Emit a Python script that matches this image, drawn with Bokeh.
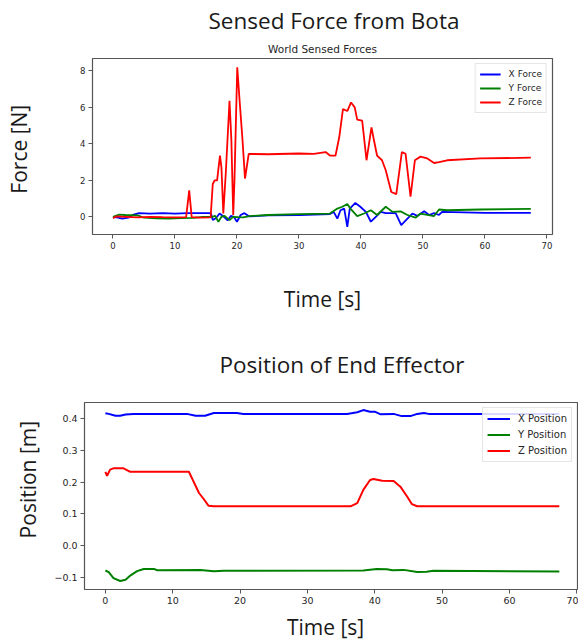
from bokeh.plotting import figure
from bokeh.models import Title, FixedTicker, CustomJSTickFormatter
from bokeh.embed import file_html
from bokeh.resources import INLINE

# ---------------- data: top chart (World Sensed Forces) ----------------
fx_time = [0, 0.8, 1.5, 2.5, 3.2, 4.2, 6, 8, 10, 12, 14, 15.8, 16.1, 16.6, 17.2, 17.9, 18.5,
           19.0, 19.5, 20.0, 20.6, 21.2, 22.0, 25, 30, 35, 35.6, 36.2, 36.7, 37.3, 37.8, 38.2,
           39.1, 39.9, 40.8, 41.6, 42.4, 43.2, 44.0, 45.6, 46.5, 47.5, 48.3, 49.1, 50.2, 51.0,
           51.8, 52.6, 53.1, 60, 67.4]
fx_value = [0.0, -0.05, -0.1, -0.05, 0.1, 0.2, 0.18, 0.2, 0.18, 0.2, 0.2, 0.2, -0.18, -0.08,
            0.18, 0.0, -0.2, 0.05, 0.0, -0.27, 0.1, 0.2, 0.02, 0.08, 0.1, 0.15, 0.27, -0.1,
            0.36, 0.45, -0.55, 0.45, 0.76, 0.55, 0.27, -0.27, 0.0, 0.27, 0.2, 0.2, -0.45, -0.1,
            0.18, 0.05, 0.3, 0.1, 0.2, 0.1, 0.27, 0.22, 0.22]

fy_time = [0, 1, 2, 4, 5, 7, 9, 11, 13, 14.5, 16, 16.5, 17.0, 17.5, 18.0, 18.8, 19.4, 20.2,
           21.0, 22.0, 25, 30, 35, 36.2, 37.0, 37.8, 38.3, 39.4, 40.5, 41.6, 42.6, 44.0, 45.1,
           46.4, 47.5, 48.8, 49.6, 50.7, 51.8, 52.6, 53.9, 59.3, 67.4]
fy_value = [0.0, 0.12, 0.1, 0.08, -0.05, -0.08, -0.1, -0.07, -0.06, 0.0, 0.0, 0.05, -0.27, 0.0,
            0.05, -0.18, 0.0, -0.02, -0.03, 0.04, 0.1, 0.15, 0.18, 0.45, 0.55, 0.7, 0.45, 0.04,
            0.18, 0.36, 0.1, 0.55, 0.27, 0.3, 0.1, -0.05, 0.18, 0.1, 0.04, 0.4, 0.36, 0.4, 0.43]

fz_time = [0, 0.5, 2, 4, 6, 8, 10, 11.8, 12.3, 12.7, 14, 15.75, 16.1, 16.4, 16.8, 17.26, 17.5,
           17.8, 18.2, 18.8, 19.1, 19.4, 19.6, 20.05, 20.4, 20.9, 21.3, 21.9, 25, 30, 32.4,
           34.3, 35.0, 35.9, 36.5, 37.1, 37.8, 38.4, 39.0, 39.4, 40.2, 40.9, 41.7, 42.1, 42.6,
           43.4, 44.0, 44.9, 45.7, 46.6, 47.2, 48.0, 48.7, 49.6, 50.7, 51.8, 52.6, 53.9, 59.3,
           67.4]
fz_value = [-0.08, 0.02, 0.0, -0.03, 0.0, -0.02, -0.03, -0.02, 1.45, -0.02, -0.05, -0.03, 1.8,
            2.0, 2.0, 3.36, 2.7, 0.18, 2.4, 6.36, 4.2, 0.1, 2.0, 8.2, 6.5, 4.2, 2.1, 3.45, 3.43,
            3.47, 3.45, 3.55, 3.36, 3.36, 4.36, 5.9, 5.8, 6.27, 6.0, 5.33, 5.27, 3.1, 4.9, 4.2,
            3.36, 3.1, 2.55, 1.36, 1.24, 3.55, 3.45, 1.1, 3.1, 3.3, 3.2, 2.95, 3.0, 3.1, 3.2,
            3.24]

force_x_ticks = [0, 10, 20, 30, 40, 50, 60, 70]
force_y_ticks = [0, 2, 4, 6, 8]

# ---------------- data: bottom chart (Position of End Effector) ----------------
px_time = [0, 0.5, 1.5, 2.2, 3.0, 4.2, 12.1, 13.4, 14.8, 16.1, 19.5, 20.5, 35.9, 37.4, 38.3,
           39.3, 40.0, 40.8, 42.8, 44.0, 45.3, 46.3, 47.3, 48.0, 67.4]
px_value = [0.418, 0.416, 0.41, 0.41, 0.414, 0.416, 0.416, 0.41, 0.41, 0.419, 0.419, 0.416,
            0.416, 0.421, 0.428, 0.423, 0.423, 0.415, 0.416, 0.409, 0.409, 0.416, 0.419,
            0.416, 0.416]

py_time = [0, 0.5, 1.2, 2.2, 3.0, 3.7, 4.7, 5.7, 7.2, 7.7, 14.1, 16.1, 17.6, 38.3, 40.3, 41.8,
           42.6, 44.3, 46.3, 47.7, 48.7, 67.4]
py_value = [-0.079, -0.084, -0.103, -0.112, -0.108, -0.095, -0.081, -0.074, -0.074, -0.078,
            -0.077, -0.081, -0.08, -0.079, -0.074, -0.075, -0.078, -0.077, -0.084, -0.083,
            -0.08, -0.082]

pz_time = [0, 0.25, 0.7, 1.2, 2.7, 3.7, 7.2, 12.4, 13.1, 13.9, 14.6, 15.3, 16.1, 36.4, 37.4,
           38.3, 39.3, 39.8, 41.1, 42.8, 43.8, 44.8, 45.5, 46.3, 67.4]
pz_value = [0.233, 0.22, 0.24, 0.244, 0.244, 0.233, 0.233, 0.233, 0.202, 0.166, 0.147, 0.126,
            0.124, 0.124, 0.134, 0.176, 0.207, 0.21, 0.205, 0.204, 0.186, 0.155, 0.131, 0.124,
            0.124]

pos_x_ticks = [0, 10, 20, 30, 40, 50, 60, 70]
pos_y_ticks = [-0.1, 0.0, 0.1, 0.2, 0.3, 0.4]

BLUE, GREEN, RED = "#0000ff", "#008000", "#ff0000"
TICK_FONT = "DejaVu Sans"
BIG_FONT = "Open Sans"
TITLE_SIZE = "22.5px"
LABEL_SIZE = "21px"
NBSP = "\u00a0"


def style_axes(p, tick_size):
    p.xgrid.visible = False
    p.ygrid.visible = False
    p.outline_line_color = "#555555"
    p.outline_line_width = 1.2
    for ax in (p.xaxis[0], p.yaxis[0]):
        ax.axis_line_color = None
        ax.major_tick_in = 0
        ax.major_tick_out = 4
        ax.major_tick_line_color = "#555555"
        ax.minor_tick_line_color = None
        ax.major_label_text_font = TICK_FONT
        ax.major_label_text_font_size = tick_size
        ax.major_label_text_color = "#262626"
        ax.major_label_standoff = 3
        ax.axis_label_text_font = BIG_FONT
        ax.axis_label_text_font_size = LABEL_SIZE
        ax.axis_label_text_font_style = "normal"
        ax.axis_label_text_color = "#1a1a1a"


def style_legend(p, font_size, glyph_w, h, spacing):
    lg = p.legend[0]
    lg.location = "top_right"
    lg.margin = 5
    lg.padding = 4
    lg.spacing = spacing
    lg.glyph_width = glyph_w
    lg.glyph_height = h
    lg.label_height = h
    lg.label_standoff = 8
    lg.label_text_font = TICK_FONT
    lg.label_text_font_size = font_size
    lg.label_text_color = "#262626"
    lg.border_line_color = "#cccccc"
    lg.background_fill_alpha = 0.85


# ---------------- top figure ----------------
p1 = figure(width=578, height=320, x_range=(-3.3, 70.9), y_range=(-0.97, 8.68),
            output_backend="svg", toolbar_location=None, title="Sensed Force from Bota",
            min_border_left=92, min_border_right=26, min_border_top=58, min_border_bottom=86)
p1.line(fx_time, fx_value, color=BLUE, line_width=1.8, legend_label="X Force")
p1.line(fy_time, fy_value, color=GREEN, line_width=1.8, legend_label="Y Force")
p1.line(fz_time, fz_value, color=RED, line_width=1.8, legend_label="Z Force")
style_axes(p1, "8.5px")
p1.xaxis[0].ticker = FixedTicker(ticks=force_x_ticks)
p1.yaxis[0].ticker = FixedTicker(ticks=force_y_ticks)
style_legend(p1, "9px", 21, 12, 2)

p1.title.align = "left"
p1.title.offset = 116
p1.title.standoff = 3
p1.title.text_font = BIG_FONT
p1.title.text_font_size = TITLE_SIZE
p1.title.text_font_style = "normal"
p1.title.text_color = "#1a1a1a"
p1.add_layout(Title(text="World Sensed Forces", align="center", standoff=7,
                    text_font=TICK_FONT, text_font_size="10.5px", text_font_style="normal",
                    text_color="#262626"), "above")
p1.xaxis[0].axis_label = "Time [s]"
p1.xaxis[0].axis_label_standoff = 33
p1.yaxis[0].axis_label = "Force [N]" + NBSP
p1.yaxis[0].axis_label_standoff = 44

# ---------------- bottom figure ----------------
p2 = figure(width=578, height=323, x_range=(-3.1, 70.1), y_range=(-0.139, 0.452),
            output_backend="svg", toolbar_location=None, title="Position of End Effector",
            min_border_left=84, min_border_right=1, min_border_top=82, min_border_bottom=52)
p2.line(px_time, px_value, color=BLUE, line_width=2, legend_label="X Position")
p2.line(py_time, py_value, color=GREEN, line_width=2, legend_label="Y Position")
p2.line(pz_time, pz_value, color=RED, line_width=2, legend_label="Z Position")
style_axes(p2, "9.5px")
p2.xaxis[0].ticker = FixedTicker(ticks=pos_x_ticks)
p2.yaxis[0].ticker = FixedTicker(ticks=pos_y_ticks)
p2.yaxis[0].formatter = CustomJSTickFormatter(
    code="var s = tick.toFixed(1); if (s === '-0.0') { s = '0.0'; } return s.replace('-', '\u2212');")
style_legend(p2, "10px", 23, 13, 3)

p2.title.align = "left"
p2.title.offset = 135
p2.title.standoff = 45
p2.title.text_font = BIG_FONT
p2.title.text_font_size = TITLE_SIZE
p2.title.text_font_style = "normal"
p2.title.text_color = "#1a1a1a"
p2.xaxis[0].axis_label = "Time [s]" + NBSP * 2
p2.xaxis[0].axis_label_standoff = 6
p2.yaxis[0].axis_label = NBSP * 6 + "Position [m]"
p2.yaxis[0].axis_label_standoff = 9

# two independent roots, stacked vertically (frames not aligned to each other)
open("out.html", "w").write(file_html([p1, p2], INLINE))
